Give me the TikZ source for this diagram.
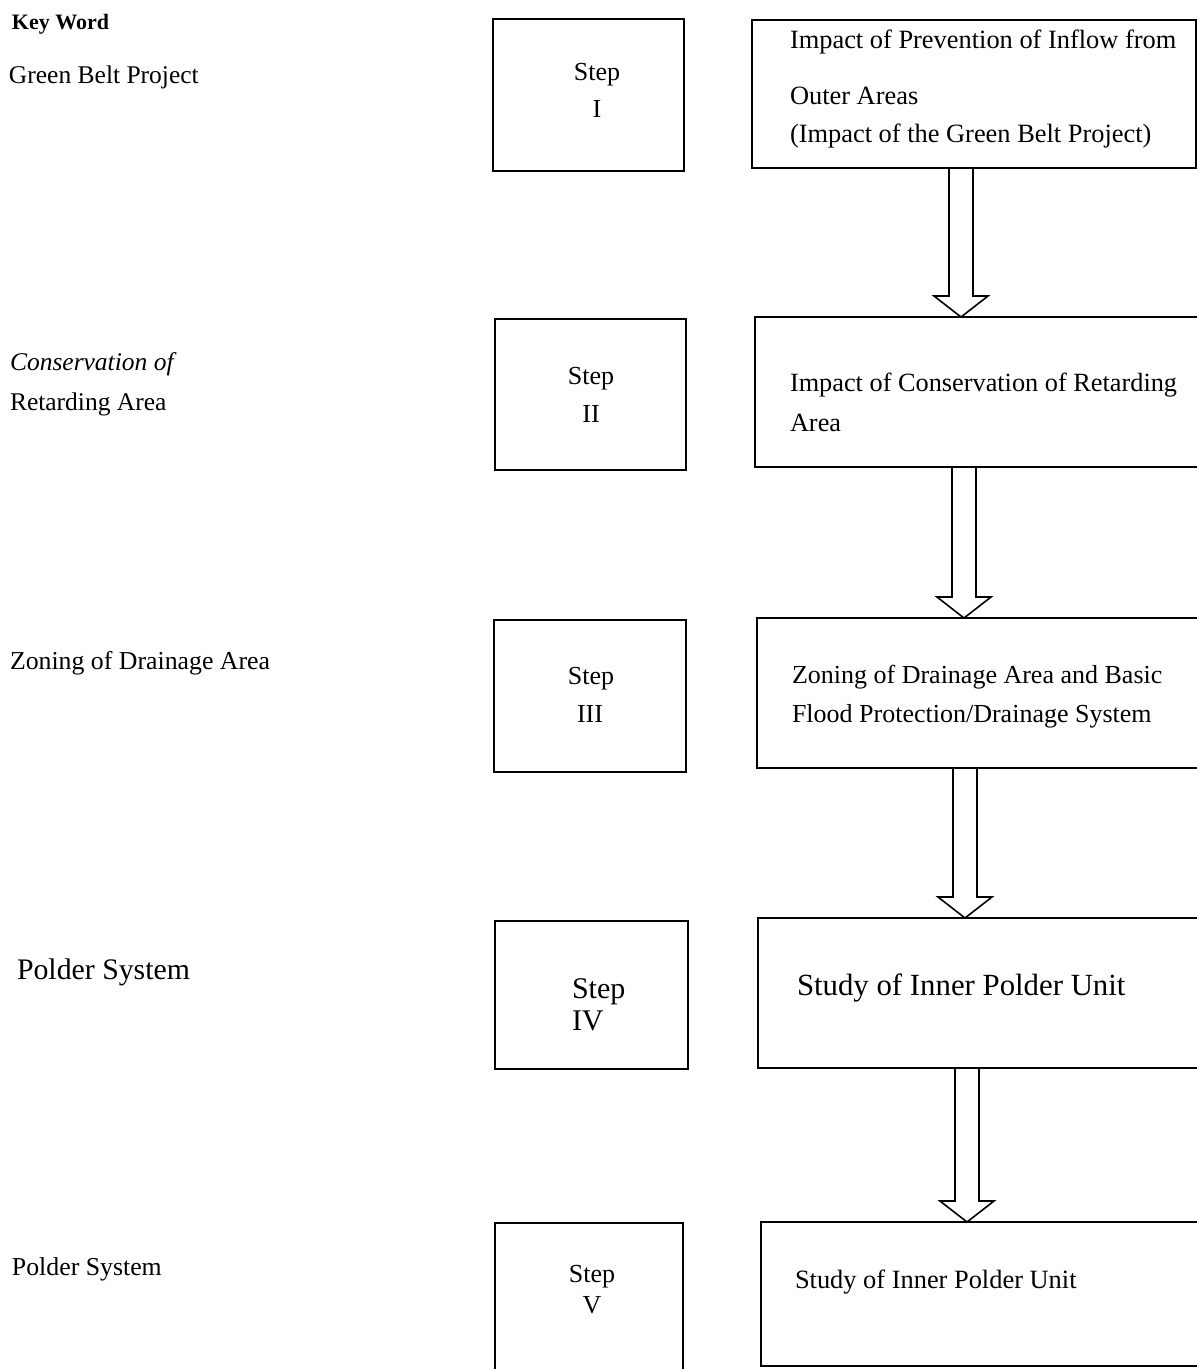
\documentclass[tikz,border=0pt]{standalone}
\usepackage{fontspec}
\setmainfont{Liberation Serif}
\usetikzlibrary{calc}
\newcommand{\fsz}[1]{\fontsize{#1}{#1}\selectfont}
\newcommand{\flowarrow}[3]{%
  \draw[hollow] ($(#1.south -| #3)+(-12,0)$) -- ($(#2.north -| #3)+(-12,-21)$)
    -- ($(#2.north -| #3)+(-27,-21)$) -- (#2.north -| #3)
    -- ($(#2.north -| #3)+(27,-21)$) -- ($(#2.north -| #3)+(12,-21)$)
    -- ($(#1.south -| #3)+(12,0)$);}
\begin{document}
\begin{tikzpicture}[x=1pt,y=-1pt,
  frame/.style={draw, line width=1.8pt, rectangle, inner sep=0pt, outer sep=0pt, anchor=north west},
  txt/.style={anchor=base west, inner sep=0pt, outer sep=0pt, font=\fsz{26}},
  ctxt/.style={anchor=base, inner sep=0pt, outer sep=0pt, font=\fsz{26}},
  hollow/.style={draw, line width=1.6pt, line join=miter}]
\useasboundingbox (0,0) rectangle (1197,1369);
\fill[white] (0,0) rectangle (1197,1369);
\clip (0,0) rectangle (1197,1369);

% step boxes
\node[frame, minimum width=191pt, minimum height=152pt] (sI) at (493,19) {};
\node[frame, minimum width=191pt, minimum height=151pt] (sII) at (495,319) {};
\node[frame, minimum width=192pt, minimum height=152pt] (sIII) at (494,620) {};
\node[frame, minimum width=193pt, minimum height=148pt] (sIV) at (495,921) {};
\node[frame, minimum width=188pt, minimum height=200pt] (sV) at (495,1223) {};

% result boxes
\node[frame, minimum width=444pt, minimum height=148pt] (rI) at (752,20) {};
\node[frame, minimum width=450pt, minimum height=150pt] (rII) at (755,317) {};
\node[frame, minimum width=450pt, minimum height=150pt] (rIII) at (757,618) {};
\node[frame, minimum width=450pt, minimum height=150pt] (rIV) at (758,918) {};
\node[frame, minimum width=450pt, minimum height=144pt] (rV) at (761,1222) {};

% arrows
\coordinate (a1) at (961,0);
\coordinate (a2) at (964,0);
\coordinate (a3) at (965,0);
\coordinate (a4) at (967,0);
\flowarrow{rI}{rII}{a1}
\flowarrow{rII}{rIII}{a2}
\flowarrow{rIII}{rIV}{a3}
\flowarrow{rIV}{rV}{a4}

% key words
\node[txt, font=\fsz{22}\bfseries] (kw) at (12,29) {Key Word};
\node[txt, font=\fsz{25.5}] (k1) at (9,83) {Green Belt Project};
\node[txt, font=\fsz{25.5}\itshape] (k2a) at (10,370) {Conservation of};
\node[txt, font=\fsz{25.5}] (k2b) at (10,410) {Retarding Area};
\node[txt, font=\fsz{25.8}] (k3) at (10,669) {Zoning of Drainage Area};
\node[txt, font=\fsz{29.8}] (k4) at (17,979) {Polder System};
\node[txt, font=\fsz{25.8}] (k5) at (12,1275) {Polder System};

% step labels
\node[ctxt] (s1a) at (597,80) {Step};
\node[ctxt] (s1b) at (597,117) {I};
\node[ctxt] (s2a) at (591,384) {Step};
\node[ctxt] (s2b) at (591,422) {II};
\node[ctxt] (s3a) at (591,684) {Step};
\node[ctxt] (s3b) at (590,722) {III};
\node[txt, font=\fsz{30}] (s4a) at (572,998) {Step};
\node[txt, font=\fsz{30}] (s4b) at (572,1030) {IV};
\node[ctxt] (s5a) at (592,1282) {Step};
\node[ctxt] (s5b) at (592,1313) {V};

% result texts
\node[txt, font=\fsz{26.4}] (t1a) at (790,48) {Impact of Prevention of Inflow from};
\node[txt, font=\fsz{26.4}] (t1b) at (790,104) {Outer Areas};
\node[txt, font=\fsz{26.4}] (t1c) at (790,142) {(Impact of the Green Belt Project)};
\node[txt, font=\fsz{26.3}] (t2a) at (790,391) {Impact of Conservation of Retarding};
\node[txt, font=\fsz{26.3}] (t2b) at (790,431) {Area};
\node[txt, font=\fsz{26}] (t3a) at (792,683) {Zoning of Drainage Area and Basic};
\node[txt, font=\fsz{26}] (t3b) at (792,722) {Flood Protection/Drainage System};
\node[txt, font=\fsz{30.8}] (t4) at (797,995) {Study of Inner Polder Unit};
\node[txt, font=\fsz{26.4}] (t5) at (795,1288) {Study of Inner Polder Unit};
\end{tikzpicture}
\end{document}
